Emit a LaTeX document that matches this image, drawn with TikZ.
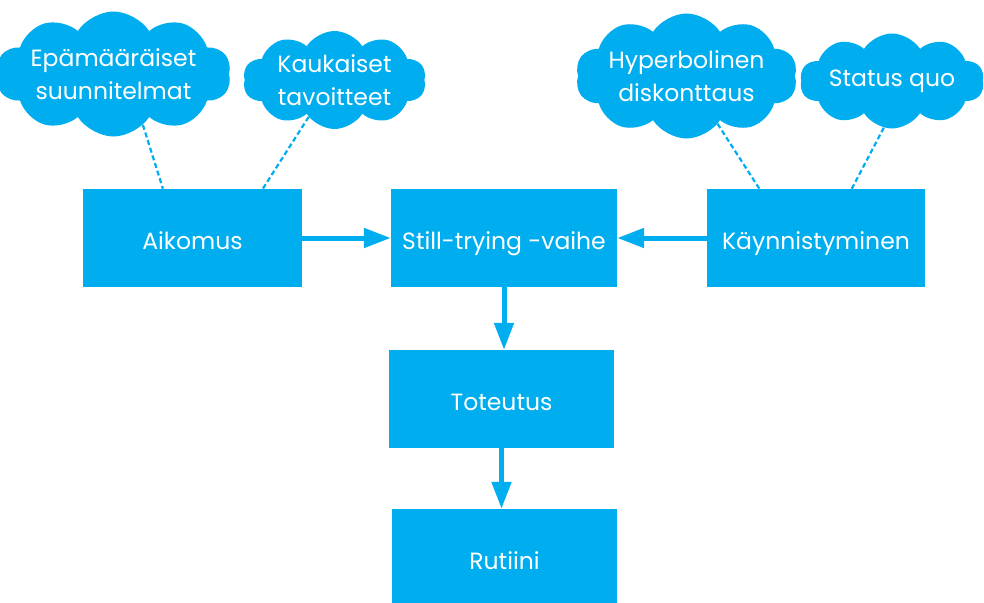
\documentclass[tikz,border=0pt]{standalone}
\usepackage{fontspec}
\setmainfont{Poppins}
\usetikzlibrary{shapes.symbols,arrows.meta,calc}
\definecolor{cy}{HTML}{00AEEF}
\begin{document}
\begin{tikzpicture}[x=1pt,y=-1pt,
  box/.style={rectangle,fill=cy,text=white,minimum width=#1,minimum height=98pt,inner sep=0pt,text height=22pt,text depth=0pt,font=\fontsize{23.5}{33}\selectfont},
  cld/.style={cloud,cloud puffs=10,cloud puff arc=115,cloud ignores aspect,fill=cy,text=white,inner sep=0pt,align=center,font=\fontsize{23.5}{33}\selectfont},
  flow/.style={cy,line width=5pt,-{Triangle[length=27pt,width=19pt]}},
  link/.style={cy,line width=2.2pt,dash pattern=on 5pt off 3pt}]
\useasboundingbox (0,0) rectangle (984,602);
\node[box=219pt] (aik) at (192.5,238) {Aikomus};
\node[box=226pt] (still) at (504,238) {Still-trying -vaihe};
\node[box=218pt] (kay) at (816,238) {Käynnistyminen};
\node[box=225pt] (tot) at (501.5,399) {Toteutus};
\node[box=225pt] (rut) at (504.5,558) {Rutiini};
\node[cld,minimum width=211pt,minimum height=125pt] (c1) at (113.5,74) {Epämääräiset\\suunnitelmat};
\node[cld,minimum width=183pt,minimum height=98pt] (c2) at (334.5,80) {Kaukaiset\\tavoitteet};
\node[cld,minimum width=205pt,minimum height=125pt] (c3) at (686.5,76) {Hyperbolinen\\diskonttaus};
\node[cld,minimum width=184pt,minimum height=95pt] (c4) at (892,81) {Status quo};
\draw[link] (c1.-60) -- (aik.121);
\draw[link] (c2.-125) -- (aik.35);
\draw[link] (c3.-57) -- (kay.139);
\draw[link] (c4.-100) -- (kay.54);
\draw[flow] (aik.east) -- (still.west);
\draw[flow] (kay.east -| kay.west) -- (still.east);
\draw[flow] (still.south) -- (still.south |- tot.north);
\draw[flow] (tot.south) -- (tot.south |- rut.north);
\end{tikzpicture}
\end{document}
